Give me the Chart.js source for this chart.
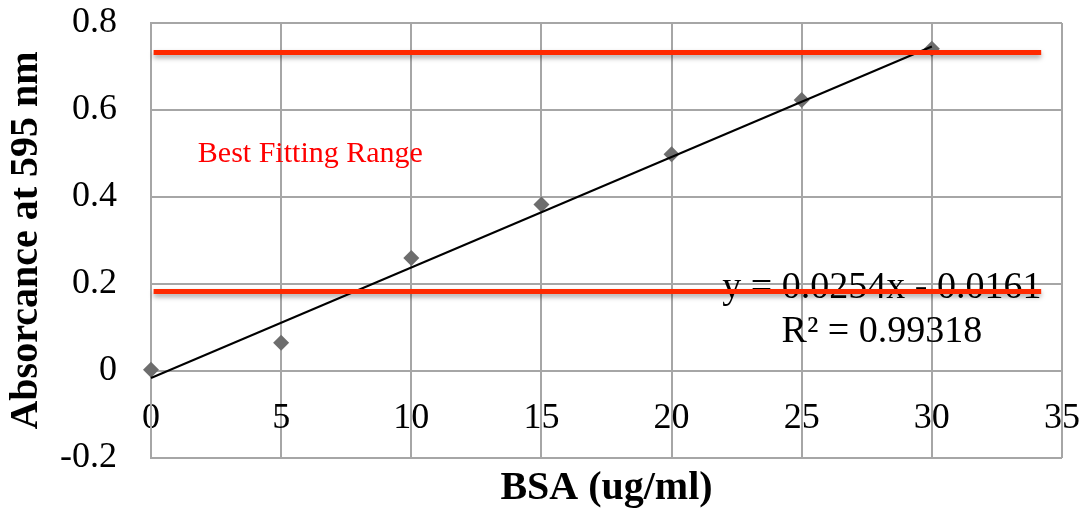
<!DOCTYPE html>
<html lang="en">
<head>
<meta charset="UTF-8">
<title>BSA standard curve</title>
<script src="https://cdn.jsdelivr.net/npm/chart.js"></script>
<style>
  * { margin: 0; padding: 0; }
  body { background: #fff; }
  .chartBox { width: 1088px; height: 510px; }
</style>
</head>
<body>
<div class="chartBox"><canvas id="myChart"></canvas></div>
<script>
  // measured points
  const bsaConc = [0, 5, 10, 15, 20, 25, 30];
  const absorbance = [0.003, 0.065, 0.26, 0.383, 0.498, 0.623, 0.741];

  // linear trendline ends (y = 0.0254x - 0.0161)
  const trendX = [0, 30];
  const trendY = [-0.0161, 0.7459];

  // "best fitting range" limits
  const rangeX = [0.1, 34.2];
  const rangeTop = 0.732;
  const rangeBottom = 0.183;

  const xTicks = [0, 5, 10, 15, 20, 25, 30, 35];
  const yTicks = [-0.2, 0, 0.2, 0.4, 0.6, 0.8];

  const serif = "'Liberation Serif', 'Times New Roman', serif";
  const gridGrey = '#a6a6a6';
  const red = '#ff2a00';

  const toPts = (xs, ys) => xs.map((x, i) => ({ x: x, y: ys[i] }));

  // text labels drawn under the datasets, so the red line runs over the equation
  const notes = {
    id: 'notes',
    beforeDatasetsDraw(chart) {
      const ctx = chart.ctx;
      const xs = chart.scales.x, ys = chart.scales.y;
      ctx.save();
      ctx.textBaseline = 'alphabetic';
      ctx.fillStyle = '#ff0000';
      ctx.font = '30px ' + serif;
      ctx.textAlign = 'left';
      ctx.fillText('Best Fitting Range', xs.getPixelForValue(1.8), ys.getPixelForValue(0.48));

      ctx.fillStyle = '#000';
      ctx.font = '38px ' + serif;
      ctx.textAlign = 'center';
      const cx = xs.getPixelForValue(28.08);
      ctx.fillText('y = 0.0254x - 0.0161', cx, ys.getPixelForValue(0.168));
      ctx.fillText('R\u00B2 = 0.99318', cx, ys.getPixelForValue(0.066));
      ctx.restore();
    },
    afterDraw(chart) {
      const ctx = chart.ctx;
      const a = chart.chartArea;
      ctx.save();
      ctx.fillStyle = '#000';
      ctx.font = 'bold 40px ' + serif;
      ctx.textAlign = 'center';
      ctx.textBaseline = 'alphabetic';
      ctx.fillText('BSA (ug/ml)', (a.left + a.right) / 2, 499);
      ctx.restore();
    },
    beforeDatasetDraw(chart, args) {
      if (args.index < 2) {
        const ctx = chart.ctx;
        ctx.save();
        ctx.shadowColor = 'rgba(0,0,0,0.35)';
        ctx.shadowBlur = 5;
        ctx.shadowOffsetY = 3;
      }
    },
    afterDatasetDraw(chart, args) {
      if (args.index < 2) chart.ctx.restore();
    }
  };

  const data = {
    datasets: [
      {
        label: 'top',
        type: 'line',
        data: toPts(rangeX, [rangeTop, rangeTop]),
        borderColor: red,
        borderWidth: 5,
        pointRadius: 0
      },
      {
        label: 'bottom',
        type: 'line',
        data: toPts(rangeX, [rangeBottom, rangeBottom]),
        borderColor: red,
        borderWidth: 5,
        pointRadius: 0
      },
      {
        label: 'trend',
        type: 'line',
        data: toPts(trendX, trendY),
        borderColor: '#000',
        borderWidth: 2,
        pointRadius: 0
      },
      {
        label: 'BSA',
        data: toPts(bsaConc, absorbance),
        pointStyle: 'rectRot',
        pointRadius: 8,
        backgroundColor: '#6d6d6d',
        borderColor: '#6d6d6d',
        borderWidth: 0
      }
    ]
  };

  const config = {
    type: 'scatter',
    data,
    options: {
      responsive: true,
      maintainAspectRatio: false,
      animation: false,
      clip: false,
      layout: { padding: { top: 23, right: 26, bottom: 52, left: 0 } },
      plugins: { legend: { display: false }, tooltip: { enabled: false } },
      scales: {
        x: {
          type: 'linear',
          position: { y: 0 },
          min: 0, max: 35,
          afterBuildTicks: (s) => { s.ticks = xTicks.map(v => ({ value: v })); },
          afterFit: (s) => { s.paddingLeft = 0; s.paddingRight = 0; },
          ticks: { color: '#000', font: { family: serif, size: 36 }, padding: 26 },
          grid: { color: gridGrey, lineWidth: 2, drawTicks: false },
          border: { color: gridGrey, width: 2 }
        },
        y: {
          min: -0.2, max: 0.8,
          afterBuildTicks: (s) => { s.ticks = yTicks.map(v => ({ value: v })); },
          afterFit: (s) => { s.width = 151; s.paddingTop = 0; s.paddingBottom = 0; },
          ticks: {
            color: '#000', font: { family: serif, size: 36 }, padding: 34,
            callback: (v) => String(Math.round(v * 10) / 10)
          },
          grid: { color: gridGrey, lineWidth: 2, drawTicks: false },
          border: { color: gridGrey, width: 2 },
          title: {
            display: true,
            text: 'Absorcance at 595 nm',
            color: '#000',
            font: { family: serif, size: 40, weight: 'bold' },
            padding: { top: 3, bottom: 0 }
          }
        }
      }
    },
    plugins: [notes]
  };

  const myChart = new Chart(document.getElementById('myChart'), config);
</script>
</body>
</html>
